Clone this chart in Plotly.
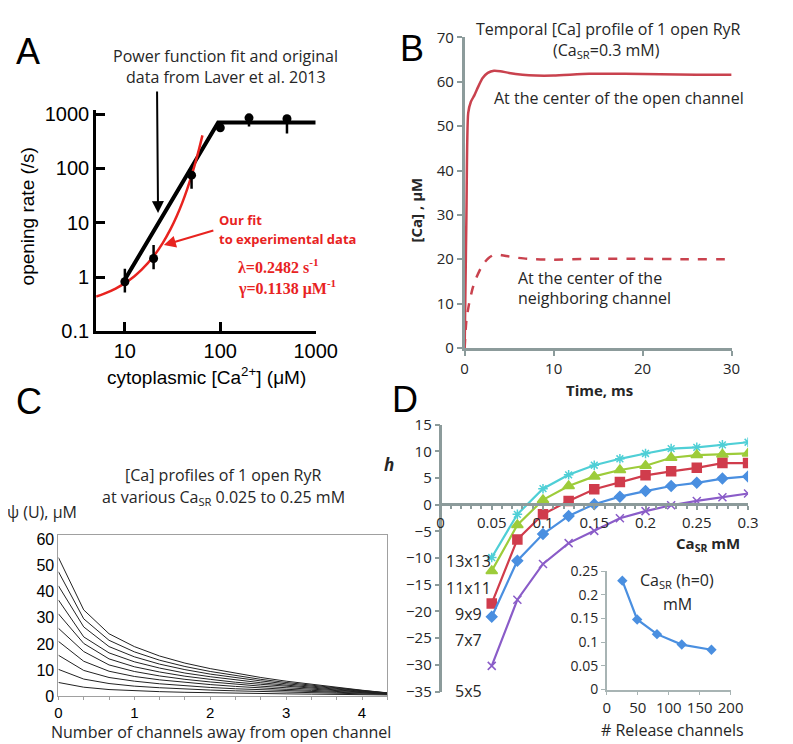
import plotly.graph_objects as go

W, H = 793, 744

# ---------------- Panel A data ----------------
laver_ca = [10, 20, 50, 100, 200, 500]
laver_rate = [0.82, 2.2, 75, 560, 850, 820]
laver_err_up = [0.6, 1.7, 15, 60, 150, 140]
laver_err_dn = [0.3, 0.8, 33, 80, 260, 380]
power_ca = [10, 95, 1000]
power_rate = [0.9, 700, 700]
ourfit_ca = [5, 6, 8, 10, 12.5, 15, 20, 25, 30, 35, 40, 45, 50, 55, 60, 65]
ourfit_rate = [0.438, 0.491, 0.617, 0.776, 1.03, 1.368, 2.417, 4.27, 7.54, 13.3,
               23.5, 41.6, 73.5, 129.8, 229, 405]

# ---------------- Panel B data ----------------
t_open = [0, 0.2, 0.4, 0.7, 1.1, 1.5, 2.0, 2.6, 3.3, 4.0, 5.0, 6.5, 8, 10, 14, 18, 22, 26, 30]
ca_open = [0, 30, 53, 55.5, 57, 58.8, 60.8, 62.0, 62.5, 62.4, 62.0, 61.6, 61.4, 61.4,
           61.8, 61.8, 61.7, 61.6, 61.6]
t_neigh = [0, 0.2, 0.5, 0.9, 1.3, 2.0, 2.7, 3.4, 4.2, 5.3, 7, 10, 14, 20, 25, 30]
ca_neigh = [0, 6.3, 10, 13.5, 15.8, 18.7, 20.3, 21.1, 20.9, 20.5, 20.1, 19.9, 20.1,
            20.1, 20.0, 20.0]

# ---------------- Panel C data ----------------
dist = [0, 1/3, 2/3, 1, 4/3, 5/3, 2, 7/3, 8/3, 3, 10/3, 11/3, 4, 13/3]
profiles = [
    [5.3, 3.5, 2.6, 2.1, 1.8, 1.55, 1.35, 1.2, 1.05, 0.95, 0.85, 0.75, 0.65, 0.55],
    [10.3, 6.6, 4.9, 3.9, 3.3, 2.8, 2.4, 2.1, 1.85, 1.6, 1.4, 1.2, 1.0, 0.75],
    [15.7, 9.9, 7.2, 5.8, 4.8, 4.0, 3.4, 2.9, 2.5, 2.2, 1.85, 1.55, 1.25, 0.9],
    [21.0, 13.4, 9.6, 7.6, 6.3, 5.3, 4.5, 3.8, 3.2, 2.7, 2.3, 1.85, 1.45, 1.0],
    [26.0, 17.1, 12.0, 9.5, 7.8, 6.5, 5.5, 4.6, 3.9, 3.3, 2.7, 2.15, 1.65, 1.1],
    [31.5, 20.2, 14.3, 11.3, 9.3, 7.7, 6.5, 5.4, 4.6, 3.8, 3.1, 2.45, 1.8, 1.15],
    [36.8, 22.7, 16.6, 13.2, 10.8, 8.9, 7.5, 6.3, 5.2, 4.3, 3.5, 2.7, 1.95, 1.2],
    [42.2, 26.5, 19.0, 15.1, 12.3, 10.2, 8.5, 7.1, 5.9, 4.8, 3.85, 2.95, 2.1, 1.25],
    [47.6, 29.6, 21.4, 17.0, 13.8, 11.4, 9.5, 7.9, 6.5, 5.3, 4.2, 3.2, 2.25, 1.3],
    [53.0, 33.0, 23.9, 19.0, 15.4, 12.7, 10.6, 8.8, 7.2, 5.8, 4.6, 3.4, 2.35, 1.35],
]

# ---------------- Panel D data ----------------
ca_sr = [0.05, 0.075, 0.1, 0.125, 0.15, 0.175, 0.2, 0.225, 0.25, 0.275, 0.3]
h_13 = [-9.9, -1.8, 3.0, 5.6, 7.4, 8.6, 9.6, 10.5, 10.75, 11.2, 11.7]
h_11 = [-12.4, -3.8, 0.9, 3.5, 5.3, 6.5, 7.3, 8.8, 9.3, 9.4, 9.6]
h_9 = [-18.5, -6.5, -1.8, 0.7, 2.9, 4.25, 5.5, 6.25, 6.9, 7.8, 7.8]
h_7 = [-21.0, -10.5, -5.5, -2.1, 0.1, 1.5, 2.55, 3.5, 4.1, 4.9, 5.3]
h_5 = [-30.2, -17.8, -11.1, -7.2, -4.9, -2.55, -1.2, -0.1, 0.7, 1.4, 2.1]
grid_names = ["13x13", "11x11", "9x9", "7x7", "5x5"]

n_channels = [25, 49, 81, 121, 169]
ca_sr_h0 = [0.23, 0.148, 0.117, 0.095, 0.084]

# ---------------- helpers ----------------
def px(x):
    return x / W

def py(y):
    return 1 - y / H

ARIAL = "Liberation Sans"
CAL = "Open Sans"
GRAY = "#8c9b9b"
RED_A = "#e8231f"
RED_B = "#c9424e"
TXT = "#262626"

fig = go.Figure()

# Panel A
fig.add_trace(go.Scatter(x=power_ca, y=power_rate, mode="lines",
                         line=dict(color="black", width=4), xaxis="x", yaxis="y"))
fig.add_trace(go.Scatter(x=ourfit_ca, y=ourfit_rate, mode="lines",
                         line=dict(color=RED_A, width=2.5, shape="spline"), xaxis="x", yaxis="y"))
fig.add_trace(go.Scatter(x=laver_ca, y=laver_rate, mode="markers",
                         marker=dict(color="black", size=9),
                         error_y=dict(type="data", array=laver_err_up, arrayminus=laver_err_dn,
                                      color="black", thickness=2.5, width=0),
                         xaxis="x", yaxis="y"))

# Panel B
fig.add_trace(go.Scatter(x=t_open, y=ca_open, mode="lines",
                         line=dict(color=RED_B, width=2.5, shape="spline", smoothing=0.6),
                         xaxis="x2", yaxis="y2"))
fig.add_trace(go.Scatter(x=t_neigh, y=ca_neigh, mode="lines",
                         line=dict(color=RED_B, width=2.5, dash="dash", shape="spline", smoothing=0.6),
                         xaxis="x2", yaxis="y2"))

# Panel C
for prof in profiles:
    fig.add_trace(go.Scatter(x=dist, y=prof, mode="lines",
                             line=dict(color="#222222", width=1), xaxis="x3", yaxis="y3"))

# Panel D
series = [
    (h_13, "#4fcfd6", "asterisk-open", 8),
    (h_11, "#9dcc3a", "triangle-up", 10),
    (h_9, "#d03c4c", "square", 9),
    (h_7, "#4a8fe0", "diamond", 8),
    (h_5, "#8a5cc8", "x-thin-open", 8),
]
for vals, col, sym, sz in series:
    fig.add_trace(go.Scatter(x=ca_sr, y=vals, mode="lines+markers",
                             line=dict(color=col, width=2.2),
                             marker=dict(color=col, symbol=sym, size=sz,
                                         line=dict(color=col, width=1.5)),
                             xaxis="x4", yaxis="y4"))

fig.add_trace(go.Scatter(x=n_channels, y=ca_sr_h0, mode="lines+markers",
                         line=dict(color="#4a8fe0", width=2.2),
                         marker=dict(color="#4a8fe0", symbol="diamond", size=8),
                         xaxis="x5", yaxis="y5"))

common = dict(showgrid=False, zeroline=False, showline=True)

layout = dict(
    width=W, height=H, margin=dict(l=0, r=0, t=0, b=0),
    paper_bgcolor="white", plot_bgcolor="rgba(0,0,0,0)", showlegend=False,
    # Panel A
    xaxis=dict(**common, type="log", range=[0.699, 3.0], domain=[px(87), px(314)],
               anchor="y", linecolor="black", linewidth=3, ticks="inside", ticklen=9,
               tickwidth=3, tickcolor="black", tickvals=[10, 100, 1000],
               ticktext=["10", "100", "1000"], tickfont=dict(family=ARIAL, size=20, color="black")),
    yaxis=dict(**common, type="log", range=[-1, 3.07], domain=[py(322), py(94)],
               anchor="x", linecolor="black", linewidth=3, ticks="inside", ticklen=9,
               tickwidth=3, tickcolor="black", tickvals=[0.1, 1, 10, 100, 1000],
               ticktext=["0.1", "1", "10", "100", "1000"],
               tickfont=dict(family=ARIAL, size=20, color="black")),
    # Panel B
    xaxis2=dict(**common, range=[0, 30], domain=[px(468), px(744)], anchor="y2",
                linecolor=GRAY, linewidth=2.5, ticks="outside", ticklen=5, tickcolor=GRAY,
                tickwidth=2, tickvals=[0, 10, 20, 30],
                tickfont=dict(family=CAL, size=15, color=TXT)),
    yaxis2=dict(**common, range=[0, 70], domain=[py(339), py(19)], anchor="x2",
                linecolor=GRAY, linewidth=2.5, ticks="outside", ticklen=5, tickcolor=GRAY,
                tickwidth=2, dtick=10, tickfont=dict(family=CAL, size=15, color=TXT)),
    # Panel C
    xaxis3=dict(**common, range=[0, 4.333], domain=[px(48), px(388)], anchor="y3",
                mirror=True, linecolor="#a0a0a0", linewidth=1, ticks="outside", ticklen=3,
                tickcolor="#a0a0a0", tick0=0, dtick=1,
                minor=dict(ticks="outside", ticklen=3, tickcolor="#a0a0a0", tick0=0, dtick=1/3),
                tickfont=dict(family=ARIAL, size=15, color="black")),
    yaxis3=dict(**common, range=[0, 61.5], domain=[py(698), py(532)], anchor="x3",
                mirror=True, linecolor="#a0a0a0", linewidth=1, ticks="", dtick=10,
                tickfont=dict(family=ARIAL, size=16, color="black")),
    # Panel D main
    xaxis4=dict(**common, range=[0, 0.3], domain=[px(443), px(761)], anchor="free",
                position=py(500), linecolor=GRAY, linewidth=2.5, ticks="outside", ticklen=4,
                tickcolor=GRAY, tickwidth=2, tickvals=[0, 0.05, 0.1, 0.15, 0.2, 0.25, 0.3],
                ticktext=["0", "0.05", "0.1", "0.15", "0.2", "0.25", "0.3"],
                minor=dict(ticks="outside", ticklen=3, tickcolor=GRAY, dtick=0.01),
                tickfont=dict(family=CAL, size=15, color=TXT)),
    yaxis4=dict(**common, range=[-35, 15], domain=[py(693), py(418)], anchor="free",
                position=px(443), linecolor=GRAY, linewidth=2.5, ticks="outside", ticklen=5,
                tickcolor=GRAY, tickwidth=2, dtick=5,
                tickfont=dict(family=CAL, size=15, color=TXT)),
    # Panel D inset
    xaxis5=dict(**common, range=[0, 200], domain=[px(615), px(743)], anchor="y5",
                linecolor="#a8b4b4", linewidth=1.5, ticks="outside", ticklen=4,
                tickcolor="#a8b4b4", dtick=50,
                tickfont=dict(family=CAL, size=15, color=TXT)),
    yaxis5=dict(**common, range=[0, 0.25], domain=[py(691), py(569)], anchor="x5",
                linecolor="#a8b4b4", linewidth=1.5, ticks="outside", ticklen=4,
                tickcolor="#a8b4b4", dtick=0.05,
                tickfont=dict(family=CAL, size=14, color=TXT)),
)
fig.update_layout(**layout)

ann = []

def txt(x, y, text, size, family=CAL, color=TXT, xanchor="center", angle=0, **kw):
    ann.append(dict(x=px(x), y=py(y), xref="paper", yref="paper", text=text, showarrow=False,
                    xanchor=xanchor, yanchor="middle", textangle=angle, borderpad=0,
                    font=dict(family=family, size=size, color=color), **kw))

# Panel letters
txt(17, 33, "A", 36, ARIAL, "black")
txt(414, 30, "B", 36, ARIAL, "black")
txt(18, 394, "C", 36, ARIAL, "black")
txt(421, 392, "D", 36, ARIAL, "black", xanchor="right")

# Panel A texts
txt(221, 38, "Power function fit and original", 16)
txt(221, 60, "data from Laver et al. 2013", 16)
txt(213, 207, "<b>Our fit</b>", 13, color=RED_A, xanchor="left")
txt(213, 227, "<b>to experimental data</b>", 13, color=RED_A, xanchor="left")
txt(233, 255, "<b>λ=0.2482 s<sup>-1</sup></b>", 16, "Liberation Serif", RED_A, xanchor="left")
txt(233, 277, "<b>γ=0.1138 μM<sup>-1</sup></b>", 16, "Liberation Serif", RED_A, xanchor="left")
txt(17, 203, "opening rate (/s)", 19, ARIAL, "black", angle=-90)
txt(201, 368, "cytoplasmic [Ca<sup>2+</sup>] (μM)", 19, ARIAL, "black")

# arrows in panel A
ann.append(dict(x=px(151), y=py(200), xref="paper", yref="paper", ax=-1, ay=-123,
                showarrow=True, arrowhead=2, arrowsize=1.2, arrowwidth=2, arrowcolor="black", text=""))
ann.append(dict(x=px(157), y=py(233), xref="paper", yref="paper", ax=51, ay=-15,
                showarrow=True, arrowhead=2, arrowsize=1.2, arrowwidth=2, arrowcolor=RED_A, text=""))

# Panel B texts
txt(617, 10, "Temporal [Ca] profile of 1 open RyR", 16)
txt(615, 32, "(Ca<sub>SR</sub>=0.3 mM)", 16)
txt(497, 81, "At the center of the open channel", 16, xanchor="left")
txt(522, 267, "At the center of the", 16, xanchor="left")
txt(522, 288, "neighboring channel", 16, xanchor="left")
txt(418, 197, "<b>[Ca] , μM</b>", 15, angle=-90)
txt(607, 382, "<b>Time, ms</b>", 15)

# Panel C texts
txt(219, 470, "[Ca] profiles of 1 open RyR", 16)
txt(219, 493, "at various Ca<sub>SR</sub> 0.025 to 0.25 mM", 16)
txt(-6, 508, "ψ (U), μM", 16, xanchor="left")
txt(216, 735, "Number of channels away from open channel", 16)

# Panel D texts
txt(390, 459, "<b><i>h</i></b>", 17)
txt(720, 541, "<b>Ca<sub>SR</sub> mM</b>", 15)
for name, yy in zip(grid_names, [559, 586, 613, 640, 692]):
    txt(472, yy, name, 16)
txt(688, 579, "Ca<sub>SR</sub> (h=0)", 16)
txt(688, 603, "mM", 16)
txt(683, 733, "# Release channels", 16)

fig.update_layout(annotations=ann)
fig.write_html("out.html")
